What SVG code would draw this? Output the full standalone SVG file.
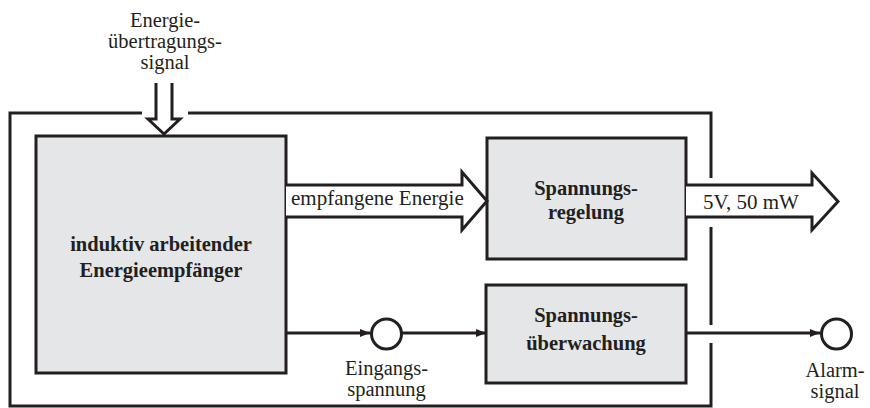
<svg xmlns="http://www.w3.org/2000/svg" width="870" height="408" viewBox="0 0 870 408">
  <style>
    .box { fill: #e5e6e7; stroke: #231f20; stroke-width: 3; }
    .line { fill: none; stroke: #231f20; stroke-width: 3; }
    .hollow { fill: #ffffff; stroke: #231f20; stroke-width: 3; stroke-linejoin: miter; }
    .port { fill: #ffffff; stroke: #231f20; stroke-width: 3; }
    text { font-family: "Liberation Serif", "Times New Roman", serif; font-size: 21px; fill: #231f20; }
    .s { font-size: 20.5px; }
    .b { font-weight: bold; font-size: 20.5px; }
    .m { text-anchor: middle; }
  </style>
  <defs>
    <marker id="tip" viewBox="0 0 10 8" refX="10" refY="4" markerWidth="10" markerHeight="8" markerUnits="userSpaceOnUse" orient="auto">
      <path d="M0,0 L10,4 L0,8 Z" fill="#231f20"/>
    </marker>
  </defs>

  <!-- outer housing with openings for the signals -->
  <g id="housing">
    <path class="line" d="M142,113 H10 V406 H711 V343"/>
    <path class="line" d="M188,113 H711 V178"/>
    <path class="line" d="M711,227 V325"/>
  </g>

  <!-- incoming energy signal -->
  <g id="energy-input">
    <text class="s m" x="165" y="27">Energie-<tspan x="165" dy="21">übertragungs-</tspan><tspan x="165" dy="21">signal</tspan></text>
    <path class="hollow" style="fill:none" d="M156,83 V119 H148 L164,134 L180,119 H172 V83"/>
  </g>

  <g id="receiver">
    <rect class="box" x="36" y="136" width="250" height="237"/>
    <text class="b m" x="161" y="251">induktiv arbeitender<tspan x="161" dy="26">Energieempfänger</tspan></text>
  </g>

  <g id="regulator">
    <rect class="box" x="487" y="138" width="199" height="121"/>
    <text class="b m" x="586" y="195">Spannungs-<tspan x="586" dy="24">regelung</tspan></text>
  </g>

  <g id="monitor">
    <rect class="box" x="486" y="285" width="200" height="98"/>
    <text class="b m" x="586" y="322">Spannungs-<tspan x="586" dy="28">überwachung</tspan></text>
  </g>

  <g id="input-voltage">
    <circle class="port" cx="386.5" cy="334" r="15"/>
    <text class="s m" x="386.5" y="375">Eingangs-<tspan x="386.5" dy="21">spannung</tspan></text>
  </g>

  <g id="alarm">
    <circle class="port" cx="836.5" cy="334" r="15"/>
    <text class="s m" x="835" y="377">Alarm-<tspan x="835" dy="20.5">signal</tspan></text>
  </g>

  <g id="connectors">
    <path class="hollow" d="M286,185 H462 V172 L487,201 L462,230 V217 H286"/>
    <text x="291" y="205">empfangene Energie</text>
    <path class="hollow" d="M686,185 H812 V173 L838,201.5 L812,230 V217 H686"/>
    <text x="703" y="209">5V, 50 mW</text>
    <path class="line" d="M286,333 H370" marker-end="url(#tip)"/>
    <path class="line" d="M402,333 H486" marker-end="url(#tip)"/>
    <path class="line" d="M686,333 H820" marker-end="url(#tip)"/>
  </g>
</svg>
